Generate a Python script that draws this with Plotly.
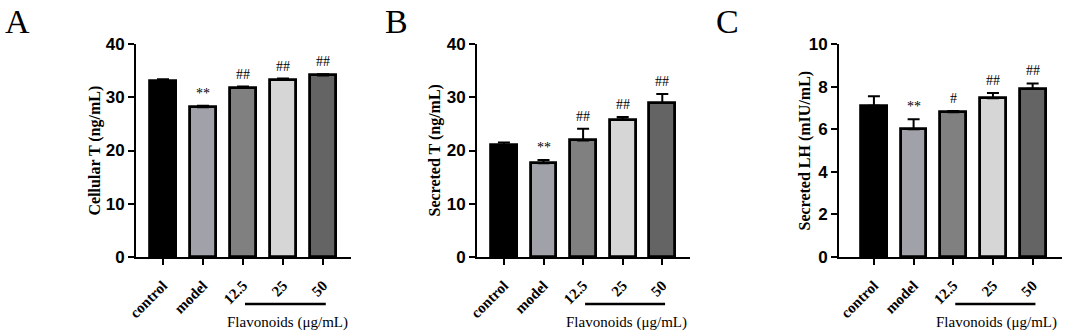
import plotly.graph_objects as go

categories = ["control", "model", "12.5", "25", "50"]
bar_colors = ["#000000", "#a1a1a9", "#808080", "#d6d6d6", "#646464"]

cellular_t = [33.1, 28.1, 31.8, 33.3, 34.1]
cellular_t_err = [0.3, 0.3, 0.2, 0.2, 0.2]
cellular_t_marks = ["", "**", "##", "##", "##"]

secreted_t = [21.0, 17.6, 21.9, 25.8, 28.9]
secreted_t_err = [0.5, 0.6, 2.2, 0.5, 1.7]
secreted_t_marks = ["", "**", "##", "##", "##"]

secreted_lh = [7.1, 6.0, 6.8, 7.45, 7.9]
secreted_lh_err = [0.45, 0.47, 0.05, 0.25, 0.25]
secreted_lh_marks = ["", "**", "#", "##", "##"]

panels = [
    dict(letter="A", title="Cellular T (ng/mL)", vals=cellular_t, err=cellular_t_err,
         marks=cellular_t_marks, ticks=[0, 10, 20, 30, 40], yr=[0, 40],
         dom=[136 / 1065, 351 / 1065], xr=[-0.675, 4.7], title_x=94, letter_x=3),
    dict(letter="B", title="Secreted T (ng/mL)", vals=secreted_t, err=secreted_t_err,
         marks=secreted_t_marks, ticks=[0, 10, 20, 30, 40], yr=[0, 40],
         dom=[477 / 1065, 690 / 1065], xr=[-0.68, 4.7], title_x=434, letter_x=383),
    dict(letter="C", title="Secreted LH (mIU/mL)", vals=secreted_lh, err=secreted_lh_err,
         marks=secreted_lh_marks, ticks=[0, 2, 4, 6, 8, 10], yr=[0, 10],
         dom=[839 / 1065, 1062 / 1065], xr=[-0.88, 4.74], title_x=804, letter_x=714),
]

W, H = 1065, 331
ydom = [74 / H, 287 / H]
serif = "Liberation Serif"
sans = "Liberation Sans"

fig = go.Figure()
annotations = []
shapes = []
xpos = list(range(len(categories)))

for i, p in enumerate(panels):
    n = "" if i == 0 else str(i + 1)
    xa, ya = "x" + n, "y" + n
    fig.add_trace(go.Bar(
        x=xpos, y=p["vals"], width=0.65,
        marker=dict(color=bar_colors, line=dict(color="black", width=2.8)),
        error_y=dict(type="data", symmetric=False, array=p["err"],
                     arrayminus=[0] * len(p["err"]), color="black",
                     thickness=2, width=6),
        xaxis=xa, yaxis=ya, showlegend=False,
    ))
    axis_common = dict(showline=True, linecolor="black", linewidth=2, ticks="outside",
                       ticklen=6, tickwidth=2, tickcolor="black", showgrid=False,
                       zeroline=False, automargin=False)
    fig.layout["xaxis" + n] = dict(
        domain=p["dom"], range=p["xr"], anchor=ya, tickvals=xpos,
        ticktext=["<b>%s</b>" % c for c in categories], tickangle=-45,
        ticklabelstandoff=6,
        tickfont=dict(family=serif, size=15, color="black"), **axis_common)
    fig.layout["yaxis" + n] = dict(
        domain=ydom, range=p["yr"], anchor=xa, tickvals=p["ticks"],
        tickfont=dict(family=sans, size=17, color="black", weight="bold"),
        **axis_common)
    for j, m in enumerate(p["marks"]):
        if m:
            annotations.append(dict(
                x=xpos[j], y=p["vals"][j] + p["err"][j], xref=xa, yref=ya,
                text=m, showarrow=False, yanchor="bottom", yshift=3,
                font=dict(family=serif, size=14, color="black")))
    annotations.append(dict(
        x=p["title_x"] / W, y=(H - 150.5) / H, xref="paper", yref="paper",
        text="<b>%s</b>" % p["title"], textangle=-90, showarrow=False,
        xanchor="center", yanchor="middle",
        font=dict(family=serif, size=16, color="black")))
    annotations.append(dict(
        x=p["letter_x"] / W, y=(H - 21) / H, xref="paper", yref="paper",
        text=p["letter"], showarrow=False, xanchor="left", yanchor="middle",
        font=dict(family=serif, size=34, color="black")))
    shapes.append(dict(type="line", xref=xa, yref="paper", x0=2.05, x1=4.07,
                       y0=(H - 304) / H, y1=(H - 304) / H,
                       line=dict(color="black", width=2.5)))
    annotations.append(dict(
        x=3.1, y=(H - 322) / H, xref=xa, yref="paper",
        text="Flavonoids (μg/mL)", showarrow=False, yanchor="middle",
        font=dict(family=serif, size=15, color="black")))

fig.update_layout(
    width=W, height=H, margin=dict(l=0, r=0, t=0, b=0),
    plot_bgcolor="white", paper_bgcolor="white",
    annotations=annotations, shapes=shapes, bargap=0,
)

fig.write_html("out.html", config={"displayModeBar": False},
               post_script="document.body.style.margin='0';document.body.style.overflow='hidden';")
